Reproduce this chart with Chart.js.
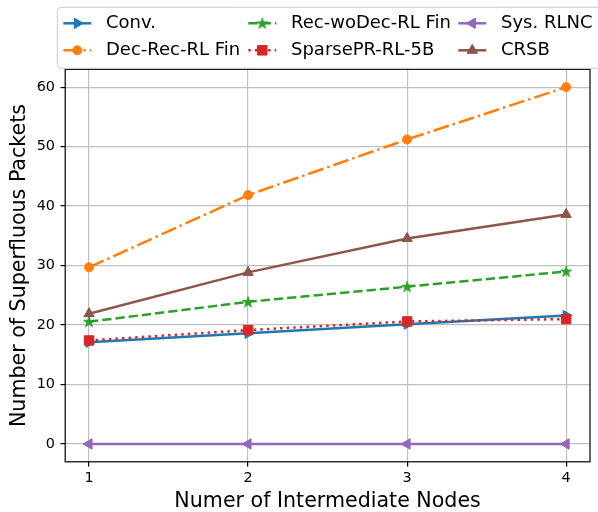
<!DOCTYPE html>
<html>
<head>
<meta charset="utf-8">
<script src="https://cdn.jsdelivr.net/npm/chart.js@4/dist/chart.umd.min.js"></script>
<style>
  html, body { margin: 0; padding: 0; background: #fff; }
  canvas { display: block; }
</style>
</head>
<body>
<canvas id="c" width="598" height="512"></canvas>
<script>
// ---- data ----
const xValues = [1, 2, 3, 4];
const xTickLabels = ['1', '2', '3', '4'];
const yTickValues = [0, 10, 20, 30, 40, 50, 60];
const seriesNames = ['Conv.', 'Dec-Rec-RL Fin', 'Rec-woDec-RL Fin', 'SparsePR-RL-5B', 'Sys. RLNC', 'CRSB'];
const conv = [17.1, 18.6, 20.15, 21.6];
const decRec = [29.7, 41.85, 51.2, 60.0];
const recWoDec = [20.55, 23.9, 26.45, 29.0];
const sparsePR = [17.4, 19.15, 20.6, 21.0];
const sysRLNC = [0, 0, 0, 0];
const crsb = [21.9, 28.85, 34.55, 38.6];
const xTitle = 'Numer of Intermediate Nodes';
const yTitle = 'Number of Superfluous Packets';

const FONT = '"DejaVu Sans", "Liberation Sans", sans-serif';
const LW = 2.5;

function starImage(color) {
  const c = document.createElement('canvas');
  c.width = 14; c.height = 14;
  const g = c.getContext('2d');
  const cx = 7, cy = 7.4, R = 5.9, r = R * 0.382;
  g.beginPath();
  for (let i = 0; i < 10; i++) {
    const a = -Math.PI / 2 + i * Math.PI / 5;
    const rr = i % 2 === 0 ? R : r;
    const px = cx + Math.cos(a) * rr, py = cy + Math.sin(a) * rr;
    if (i === 0) g.moveTo(px, py); else g.lineTo(px, py);
  }
  g.closePath();
  g.fillStyle = color; g.fill();
  g.lineWidth = 0.8; g.strokeStyle = color; g.lineJoin = 'miter'; g.stroke();
  return c;
}

function pts(arr) { return xValues.map((x, i) => ({ x: x, y: arr[i] })); }

const styles = [
  { color: '#1f77b4', dash: [], pointStyle: 'triangle', rotation: 90, radius: 6 },
  { color: '#ff7f0e', dash: [16, 4, 2.5, 4], pointStyle: 'circle', rotation: 0, radius: 4.5 },
  { color: '#2ca02c', dash: [9.3, 4], pointStyle: null, rotation: 0, radius: 7 },
  { color: '#d62728', dash: [2.5, 4.1], pointStyle: 'rect', rotation: 0, radius: 6.7 },
  { color: '#9467bd', dash: [], pointStyle: 'triangle', rotation: -90, radius: 6 },
  { color: '#8c564b', dash: [], pointStyle: 'triangle', rotation: 0, radius: 6 }
];
styles[2].pointStyle = starImage(styles[2].color);

const seriesData = [conv, decRec, recWoDec, sparsePR, sysRLNC, crsb];

const datasets = seriesData.map((arr, i) => {
  const s = styles[i];
  return {
    label: seriesNames[i],
    data: pts(arr),
    borderColor: s.color,
    backgroundColor: s.color,
    borderWidth: LW,
    borderDash: s.dash,
    pointStyle: s.pointStyle,
    rotation: s.rotation,
    pointRadius: s.radius,
    pointBorderWidth: 1,
    pointBorderColor: s.color,
    pointBackgroundColor: s.color,
    tension: 0,
    fill: false,
    order: 6 - i,
    clip: false
  };
});

const framePlugin = {
  id: 'frame',
  afterDatasetsDraw(chart) {
    const { ctx, chartArea: a } = chart;
    ctx.save();
    ctx.strokeStyle = '#000';
    ctx.lineWidth = 1.2;
    ctx.strokeRect(a.left, a.top, a.right - a.left, a.bottom - a.top);
    ctx.restore();
  }
};

const legendPlugin = {
  id: 'mplLegend',
  afterDraw(chart) {
    const ctx = chart.ctx;
    ctx.save();
    const bx = 57.3, by = 7.3, bw = 560, bh = 61, rad = 4;
    ctx.beginPath();
    ctx.moveTo(bx + rad, by);
    ctx.lineTo(bx + bw - rad, by);
    ctx.arcTo(bx + bw, by, bx + bw, by + rad, rad);
    ctx.lineTo(bx + bw, by + bh - rad);
    ctx.arcTo(bx + bw, by + bh, bx + bw - rad, by + bh, rad);
    ctx.lineTo(bx + rad, by + bh);
    ctx.arcTo(bx, by + bh, bx, by + bh - rad, rad);
    ctx.lineTo(bx, by + rad);
    ctx.arcTo(bx, by, bx + rad, by, rad);
    ctx.closePath();
    ctx.fillStyle = 'rgba(255,255,255,0.8)';
    ctx.fill();
    ctx.strokeStyle = '#cccccc';
    ctx.lineWidth = 1;
    ctx.stroke();

    const colX = [63.3, 248.3, 458.3];
    const rowY = [23.3, 50.3];
    const handleLen = 28;
    ctx.font = '18px ' + FONT;
    ctx.textBaseline = 'middle';
    ctx.textAlign = 'left';
    datasets.forEach((ds, i) => {
      const col = Math.floor(i / 2), row = i % 2;
      const x0 = colX[col], y = rowY[row];
      const s = styles[i];
      ctx.save();
      ctx.strokeStyle = s.color;
      ctx.lineWidth = LW;
      ctx.setLineDash(s.dash);
      ctx.beginPath();
      ctx.moveTo(x0, y);
      ctx.lineTo(x0 + handleLen, y);
      ctx.stroke();
      ctx.setLineDash([]);
      ctx.fillStyle = s.color;
      ctx.strokeStyle = s.color;
      ctx.lineWidth = 1;
      Chart.helpers.drawPoint(ctx, {
        pointStyle: s.pointStyle, rotation: s.rotation, radius: s.radius, borderWidth: 1
      }, x0 + handleLen / 2, y);
      ctx.restore();
      ctx.fillStyle = '#000';
      ctx.fillText(ds.label, x0 + 42.7, y + 0.5);
    });
    ctx.restore();
  }
};

new Chart(document.getElementById('c'), {
  type: 'line',
  data: { datasets: datasets },
  options: {
    responsive: false,
    devicePixelRatio: 1,
    animation: false,
    events: [],
    layout: { padding: { left: 0, top: 69.3, right: 4.3, bottom: 0 } },
    plugins: { legend: { display: false }, tooltip: { enabled: false } },
    scales: {
      x: {
        type: 'linear',
        min: 0.85,
        max: 4.15,
        afterBuildTicks(scale) { scale.ticks = xValues.map(v => ({ value: v })); },
        afterFit(scale) { scale.height = 50.2; scale.paddingLeft = 0; scale.paddingRight = 0; },
        ticks: {
          callback(v) { const i = xValues.indexOf(v); return i >= 0 ? xTickLabels[i] : ''; },
          font: { family: FONT, size: 14.4 },
          color: '#000',
          padding: 3.5,
          maxRotation: 0,
          autoSkip: false
        },
        grid: { color: '#c0c0c0', lineWidth: 1.2, tickColor: '#000', tickLength: 4.7, tickWidth: 1.2 },
        border: { display: false },
        title: {
          display: true, text: xTitle, color: '#000',
          font: { family: FONT, size: 20.6, lineHeight: 1.0 },
          padding: { top: 0, bottom: 0 }
        }
      },
      y: {
        type: 'linear',
        min: -3,
        max: 63,
        afterBuildTicks(scale) { scale.ticks = yTickValues.map(v => ({ value: v })); },
        afterFit(scale) { scale.width = 65.2; scale.paddingTop = 0; scale.paddingBottom = 0; },
        ticks: {
          font: { family: FONT, size: 14.4 },
          color: '#000',
          padding: 5.5,
          autoSkip: false
        },
        grid: { color: '#c0c0c0', lineWidth: 1.2, tickColor: '#000', tickLength: 4.7, tickWidth: 1.2 },
        border: { display: false },
        title: {
          display: true, text: yTitle, color: '#000',
          font: { family: FONT, size: 20.6, lineHeight: 1.2 },
          padding: { top: 7.1, bottom: 0 }
        }
      }
    }
  },
  plugins: [framePlugin, legendPlugin]
});
</script>
</body>
</html>
